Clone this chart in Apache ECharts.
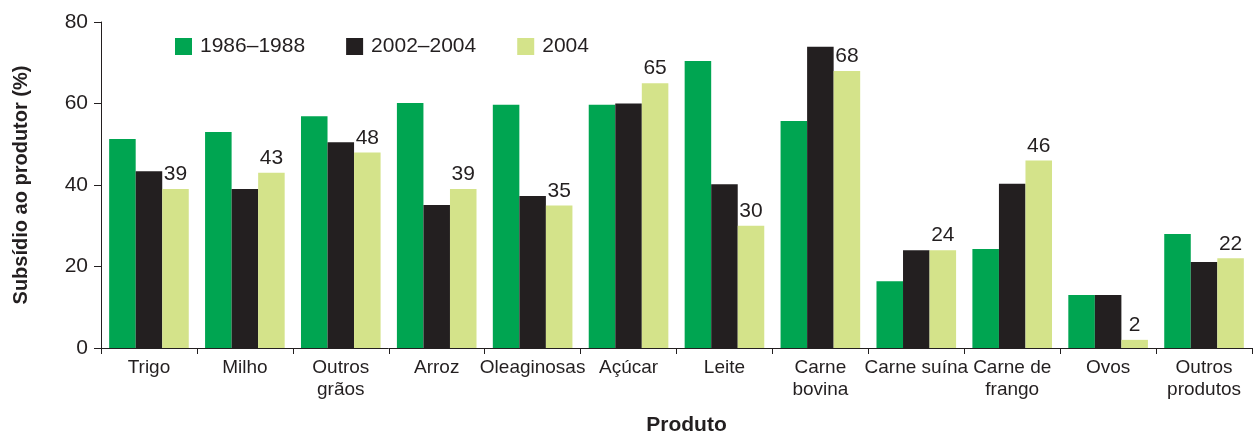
<!DOCTYPE html>
<html>
<head>
<meta charset="utf-8">
<script src="https://cdn.jsdelivr.net/npm/echarts@6/dist/echarts.min.js"></script>
<style>
    html, body { margin: 0; padding: 0; background: #fff; }
    #chart { width: 1254px; height: 434px; }
</style>
</head>
<body>
<div id="chart"></div>
<script>
    // dados
    var categories = ['Trigo', 'Milho', 'Outros\ngrãos', 'Arroz', 'Oleaginosas', 'Açúcar', 'Leite',
        'Carne\nbovina', 'Carne suína', 'Carne de\nfrango', 'Ovos', 'Outros\nprodutos'];
    var seriesNames = ['1986–1988', '2002–2004', '2004'];
    var values1986 = [51.3, 53, 56.9, 60.1, 59.7, 59.7, 70.4, 55.7, 16.4, 24.3, 13, 28];
    var values2002 = [43.4, 39, 50.5, 35.1, 37.3, 60, 40.2, 73.9, 24, 40.3, 13, 21.1];
    var values2004 = [39, 43, 48, 39, 35, 65, 30, 68, 24, 46, 2, 22];
    var colors = ['#00a551', '#231f20', '#d4e38a'];

    var chart = echarts.init(document.getElementById('chart'));
    var font = 'Liberation Sans, Arial, sans-serif';

    var option = {
        animation: false,
        textStyle: { fontFamily: font },
        color: colors,
        legend: {
            left: 170,
            top: 31,
            itemWidth: 17,
            itemHeight: 17,
            itemGap: 41,
            icon: 'rect',
            textStyle: { fontSize: 21, color: '#231f20', fontFamily: font, padding: [0, 0, 0, 3] },
            data: seriesNames
        },
        grid: {
            left: 101,
            right: 2,
            top: 22,
            bottom: 86,
            containLabel: false,
            outerBoundsMode: 'none'
        },
        xAxis: {
            type: 'category',
            data: categories,
            name: 'Produto',
            nameLocation: 'middle',
            nameGap: 67,
            nameTextStyle: { fontSize: 21, fontWeight: 'bold', color: '#231f20', fontFamily: font, padding: [0, 0, 0, 20] },
            axisLine: { lineStyle: { color: '#231f20', width: 1 } },
            axisTick: { show: true, length: 6, lineStyle: { color: '#231f20' } },
            axisLabel: { fontSize: 19, color: '#231f20', margin: 9, lineHeight: 22, interval: 0 }
        },
        yAxis: {
            type: 'value',
            min: 0,
            max: 80,
            interval: 20,
            name: 'Subsídio ao produtor (%)',
            nameLocation: 'middle',
            nameGap: 70,
            nameTextStyle: { fontSize: 20, fontWeight: 'bold', color: '#231f20', fontFamily: font },
            axisLine: { show: true, lineStyle: { color: '#231f20', width: 1 } },
            axisTick: { show: true, length: 7, lineStyle: { color: '#231f20' } },
            axisLabel: { fontSize: 21, color: '#231f20', margin: 13 },
            splitLine: { show: false }
        },
        series: [
            {
                name: seriesNames[0],
                type: 'bar',
                data: values1986,
                barGap: '0%',
                barCategoryGap: '17%'
            },
            {
                name: seriesNames[1],
                type: 'bar',
                data: values2002,
                barGap: '0%',
                barCategoryGap: '17%'
            },
            {
                name: seriesNames[2],
                type: 'bar',
                data: values2004,
                barGap: '0%',
                barCategoryGap: '17%',
                label: {
                    show: true,
                    position: 'top',
                    distance: 4,
                    fontSize: 21,
                    color: '#231f20',
                    fontFamily: font
                }
            }
        ]
    };

    chart.setOption(option);
</script>
</body>
</html>
